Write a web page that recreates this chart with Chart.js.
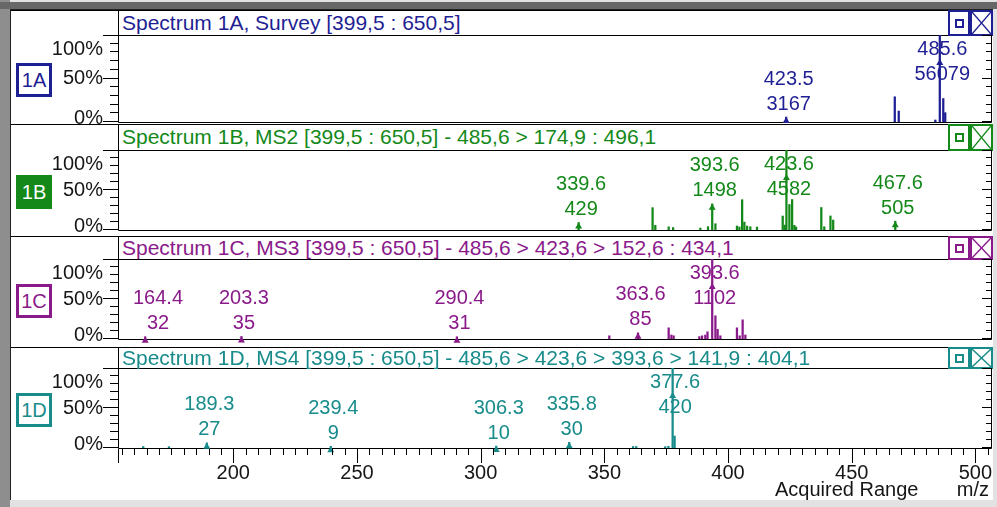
<!DOCTYPE html>
<html>
<head>
<meta charset="utf-8">
<title>Spectra 1A–1D</title>
<script src="https://cdn.jsdelivr.net/npm/chart.js@4.4.1/dist/chart.umd.min.js"></script>
<style>
  html, body { margin: 0; padding: 0; background: #fff; }
  #view { position: relative; width: 997px; height: 507px; overflow: hidden; background: #e2e2e2;
          font-family: "Liberation Sans", Arial, sans-serif; }
  .band-top { position: absolute; left: 0; top: 2px; width: 997px; height: 7px; background: #676767; }
  .band-left { position: absolute; left: 0; top: 0; width: 10px; height: 507px; background: #8e8e8e; }
  .sheet { position: absolute; left: 10px; top: 9px; width: 983px; height: 491px; background: #fff;
           border-left: 1px solid #222; border-top: 1px solid #222; box-sizing: border-box; }
  .panel { position: absolute; left: 11px; width: 982px; background: #fff; border-top: 1px solid #000; box-sizing: border-box; }
  .title { position: absolute; left: 107px; right: 0; top: 0; border-left: 1px solid #000; border-bottom: 1px solid #000;
           box-sizing: border-box; font-size: 21px; padding-left: 3px; white-space: nowrap; overflow: visible; }
  .tag { position: absolute; left: 5px; width: 36px; height: 34px; box-sizing: border-box; border: 3px solid;
         font-size: 20px; text-align: center; line-height: 28px; background: #fff; }
  .btn { position: absolute; box-sizing: border-box; border: 2px solid; background: #fff; }
  .btn .sq { position: absolute; left: 5px; width: 9px; height: 9px; box-sizing: border-box; border: 2px solid; }
  .btn svg { position: absolute; left: 0; top: 0; }
  canvas { position: absolute; left: 0; }
</style>
</head>
<body>
<div id="view">
  <div class="band-left"></div>
  <div class="band-top"></div>
  <div class="sheet"></div>
</div>
<script>
// ---------- spectrum data (m/z, absolute intensity) ----------
const tagNames = ['1A', '1B', '1C', '1D'];
const spectrumTitles = [
  'Spectrum 1A, Survey [399,5 : 650,5]',
  'Spectrum 1B, MS2 [399,5 : 650,5] - 485,6 > 174,9 : 496,1',
  'Spectrum 1C, MS3 [399,5 : 650,5] - 485,6 > 423,6 > 152,6 : 434,1',
  'Spectrum 1D, MS4 [399,5 : 650,5] - 485,6 > 423,6 > 393,6 > 141,9 : 404,1'
];

const mzA  = [423.5, 467.4, 469.0, 483.8, 485.6, 487.0, 487.8];
const intA = [3167, 16260, 7070, 1290, 56079, 15140, 6000];
const labelA = [423.5, 485.6];

const mzB  = [339.6, 369.5, 370.6, 376.0, 377.8, 388.8, 391.9, 393.6, 394.9, 403.6, 404.6, 405.7, 406.6, 407.7,
              409.0, 411.7, 422.1, 422.9, 423.6, 424.8, 425.9, 426.8, 427.5, 437.7, 438.9, 441.4, 442.5, 467.6];
const intB = [429, 1280, 270, 180, 140, 110, 190, 1498, 360, 230, 175, 1735, 455, 225,
              185, 170, 800, 280, 4582, 1460, 1745, 270, 175, 1290, 185, 805, 570, 505];
const labelB = [339.6, 393.6, 423.6, 467.6];

const mzC  = [164.4, 203.3, 290.4, 352.0, 363.6, 376.0, 377.1, 378.0, 388.4, 389.5, 390.8, 391.7, 393.6,
              394.9, 395.8, 396.9, 403.6, 404.7, 405.9, 407.0];
const intC = [32, 35, 31, 44, 85, 154, 55, 44, 33, 44, 55, 99, 1102,
              320, 132, 44, 154, 44, 264, 55];
const labelC = [164.4, 203.3, 290.4, 363.6, 393.6];

const mzD  = [163.6, 174.0, 189.3, 239.4, 306.3, 335.8, 361.6, 362.9, 374.6, 375.9, 377.6, 378.4];
const intD = [8, 7, 27, 9, 10, 30, 8, 8, 7, 9, 420, 63];
const labelD = [189.3, 239.4, 306.3, 335.8, 377.6];

// axis ticks
const mzRange = [153.4, 506.7];
const xMinorTicks = Array.from({ length: 71 }, (_, k) => 155 + 5 * k);   // 155 … 505
const xMajorTicks = [200, 250, 300, 350, 400, 450, 500];
const yMinorTicks = [0, 10, 20, 30, 40, 50, 60, 70, 80, 90, 100];
const yMajorTicks = [0, 50, 100];
const yTickText = ['0%', '50%', '100%'];
const xAxisTitle = 'Acquired Range';
const xUnitTitle = 'm/z';

// ---------- look ----------
const panelColors = ['#1f1f94', '#14891a', '#8a1a8a', '#188b8b'];
const tagFilled   = [false, true, false, false];
const panelLayout = [            // page rows: separator, title bottom, plot bottom, next separator
  { sep: 10,  titleBottom: 35,  plotBottom: 122, next: 124 },
  { sep: 124, titleBottom: 150, plotBottom: 230, next: 236 },
  { sep: 236, titleBottom: 259, plotBottom: 339, next: 347 },
  { sep: 347, titleBottom: 368, plotBottom: 448, next: 500 }
];
const FONT = '20px "Liberation Sans", Arial, sans-serif';
const INK = '#161616';

const spectra = [
  { mz: mzA, inten: intA, labels: labelA },
  { mz: mzB, inten: intB, labels: labelB },
  { mz: mzC, inten: intC, labels: labelC },
  { mz: mzD, inten: intD, labels: labelD }
];

// ---------- axes, frame and peak labels ----------
const spectrumDecor = {
  id: 'spectrumDecor',
  afterDatasetsDraw(chart, args, opts) {
    const { ctx, chartArea: ca, scales: { x, y } } = chart;
    ctx.save();
    ctx.strokeStyle = '#000';
    ctx.lineWidth = 1;

    // plot frame (left, bottom, right)
    ctx.beginPath();
    ctx.moveTo(ca.left + 0.5, ca.top);
    ctx.lineTo(ca.left + 0.5, ca.bottom + 0.5);
    ctx.lineTo(ca.right - 0.5, ca.bottom + 0.5);
    ctx.lineTo(ca.right - 0.5, ca.top);
    ctx.stroke();

    // y ticks, both sides
    ctx.beginPath();
    for (const v of yMinorTicks) {
      const major = yMajorTicks.includes(v);
      const py = Math.round(y.getPixelForValue(v)) + (v === 100 ? 0.5 : -0.5);
      ctx.moveTo(ca.left - (major ? 15 : 8), py);
      ctx.lineTo(ca.left, py);
      ctx.moveTo(ca.right - (major ? 10 : 6), py);
      ctx.lineTo(ca.right, py);
    }
    ctx.stroke();

    // y tick labels
    ctx.font = FONT;
    ctx.fillStyle = INK;
    ctx.textAlign = 'right';
    ctx.textBaseline = 'middle';
    yMajorTicks.forEach((v, k) => {
      let py = y.getPixelForValue(v);
      if (v === 100) py = ca.top + 14;
      if (v === 0) py = ca.bottom - 4;
      ctx.fillText(yTickText[k], ca.left - 15, py);
    });

    // peak annotations: m/z over intensity, with a marker on the stick
    ctx.fillStyle = opts.color;
    ctx.textAlign = 'center';
    const s = opts.spectrum;
    const base = Math.max(...s.inten);
    for (const m of s.labels) {
      const idx = s.mz.indexOf(m);
      const px = x.getPixelForValue(m);
      const apex = y.getPixelForValue(s.inten[idx] / base * 100);
      let line1 = apex - 38;
      let markTop = apex;
      if (line1 < ca.top + 14) { line1 = ca.top + 14; markTop = line1 + 10; }
      const line2 = line1 + 25;
      const t1 = m.toFixed(1), t2 = String(s.inten[idx]);
      const w = Math.max(ctx.measureText(t1).width, ctx.measureText(t2).width);
      let cx = px + 2.5;
      if (cx - w / 2 < ca.left + 15) cx = ca.left + 15 + w / 2;
      ctx.fillText(t1, cx, line1);
      ctx.fillText(t2, cx, line2);
      ctx.beginPath();
      ctx.moveTo(px, markTop);
      ctx.lineTo(px + 3.5, markTop + 6);
      ctx.lineTo(px - 3.5, markTop + 6);
      ctx.closePath();
      ctx.fill();
    }

    // shared m/z axis under the last spectrum
    if (opts.xAxis) {
      ctx.beginPath();
      const y0 = ca.bottom + 1;
      ctx.moveTo(ca.left + 0.5, y0);
      ctx.lineTo(ca.left + 0.5, y0 + 14);
      for (const v of xMinorTicks) {
        const px = Math.round(x.getPixelForValue(v)) + 0.5;
        const major = xMajorTicks.includes(v);
        ctx.moveTo(px, y0);
        ctx.lineTo(px, y0 + (major ? 14 : 6));
      }
      ctx.stroke();
      ctx.fillStyle = INK;
      ctx.textAlign = 'center';
      for (const v of xMajorTicks) {
        ctx.fillText(String(v), x.getPixelForValue(v), ca.bottom + 25);
      }
      ctx.textAlign = 'left';
      ctx.fillText(xAxisTitle, 775, ca.bottom + 42);
      ctx.textAlign = 'right';
      ctx.fillText(xUnitTitle, 989, ca.bottom + 42);
    }
    ctx.restore();
  }
};

// ---------- build the four stacked spectra ----------
const view = document.getElementById('view');
const svgNS = 'http://www.w3.org/2000/svg';

spectra.forEach((s, i) => {
  const L = panelLayout[i];
  const color = panelColors[i];

  const panel = document.createElement('div');
  panel.className = 'panel';
  panel.style.top = L.sep + 'px';
  panel.style.height = (L.next - L.sep) + 'px';

  const title = document.createElement('div');
  title.className = 'title';
  title.style.height = (L.titleBottom - L.sep) + 'px';
  title.style.lineHeight = (L.titleBottom - L.sep - 2) + 'px';
  title.style.color = color;
  title.textContent = spectrumTitles[i];

  // window buttons at the right end of the title bar
  const h = L.titleBottom - L.sep + 1;
  const b1 = document.createElement('div');
  b1.className = 'btn';
  Object.assign(b1.style, { right: '23px', top: '-1px', width: '22px', height: h + 'px', borderColor: color });
  const sq = document.createElement('div');
  sq.className = 'sq';
  Object.assign(sq.style, { top: Math.round(h / 2 - 6.5) + 'px', borderColor: color });
  b1.appendChild(sq);
  const b2 = document.createElement('div');
  b2.className = 'btn';
  Object.assign(b2.style, { right: '0px', top: '-1px', width: '23px', height: h + 'px', borderColor: color });
  const svg = document.createElementNS(svgNS, 'svg');
  svg.setAttribute('width', 19);
  svg.setAttribute('height', h - 4);
  [[0, 0, 19, h - 4], [19, 0, 0, h - 4]].forEach(([x1, y1, x2, y2]) => {
    const ln = document.createElementNS(svgNS, 'line');
    ln.setAttribute('x1', x1); ln.setAttribute('y1', y1);
    ln.setAttribute('x2', x2); ln.setAttribute('y2', y2);
    ln.setAttribute('stroke', color); ln.setAttribute('stroke-width', 1.4);
    svg.appendChild(ln);
  });
  b2.appendChild(svg);
  title.appendChild(b1);
  title.appendChild(b2);
  panel.appendChild(title);

  const tag = document.createElement('div');
  tag.className = 'tag';
  const centre = (L.titleBottom + L.plotBottom) / 2 + 1.5;
  tag.style.top = Math.round(centre - 17 - (L.sep + 1)) + 'px';
  tag.style.borderColor = color;
  tag.style.color = tagFilled[i] ? '#fff' : color;
  tag.style.background = tagFilled[i] ? color : '#fff';
  tag.textContent = tagNames[i];
  panel.appendChild(tag);
  view.appendChild(panel);

  const cv = document.createElement('canvas');
  const cH = L.next - L.titleBottom;
  cv.width = 997; cv.height = cH;
  cv.style.top = L.titleBottom + 'px';
  cv.style.width = '997px'; cv.style.height = cH + 'px';
  view.appendChild(cv);

  const base = Math.max(...s.inten);
  new Chart(cv, {
    type: 'bar',
    data: {
      datasets: [{
        data: s.mz.map((m, k) => ({ x: m, y: s.inten[k] / base * 100 })),
        backgroundColor: color,
        borderWidth: 0,
        barThickness: 1.6,
        grouped: false
      }]
    },
    options: {
      responsive: false,
      animation: false,
      devicePixelRatio: 1,
      layout: { padding: { left: 118, right: 5, top: 0, bottom: L.next - L.plotBottom } },
      plugins: {
        legend: { display: false },
        tooltip: { enabled: false },
        spectrumDecor: { color, spectrum: s, xAxis: i === spectra.length - 1 }
      },
      scales: {
        x: { type: 'linear', min: mzRange[0], max: mzRange[1], offset: false, display: false },
        y: { type: 'linear', min: 0, max: 100, display: false }
      }
    },
    plugins: [spectrumDecor]
  });
});
</script>
</body>
</html>
